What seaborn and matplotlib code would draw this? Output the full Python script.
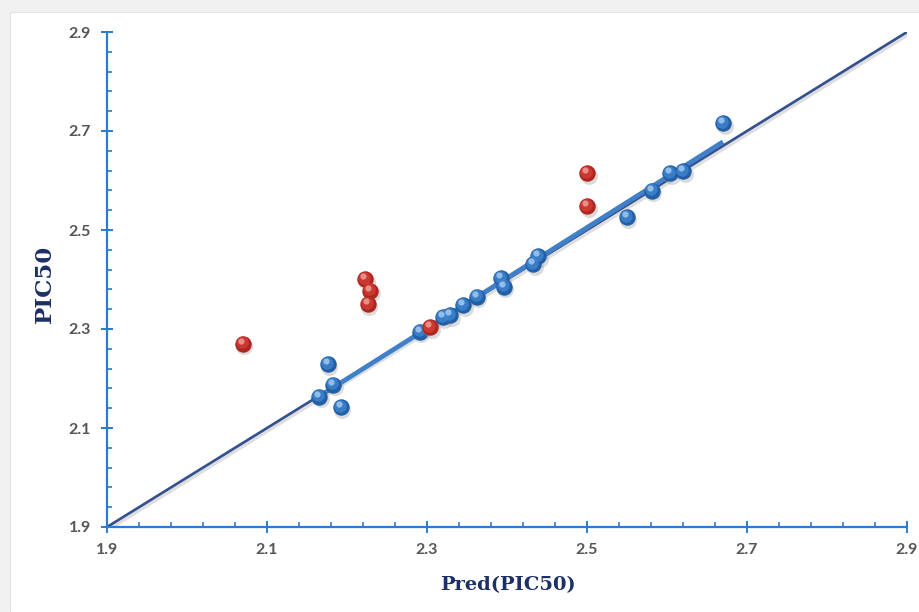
import numpy as np
import pandas as pd
import matplotlib
matplotlib.use("Agg")
import matplotlib.pyplot as plt
import matplotlib.transforms as mtransforms
from matplotlib.ticker import FixedLocator, FormatStrFormatter
from matplotlib.patches import Rectangle
import seaborn as sns

# Training set (blue) and test set (red): predicted vs. observed pIC50
train_pred = [2.165, 2.1925, 2.1825, 2.176, 2.291, 2.320, 2.329, 2.345, 2.3625,
              2.3925, 2.396, 2.4325, 2.439, 2.550, 2.581, 2.604, 2.620, 2.670]
train_obs = [2.163, 2.142, 2.187, 2.229, 2.294, 2.324, 2.328, 2.348, 2.365,
             2.403, 2.385, 2.431, 2.447, 2.526, 2.579, 2.615, 2.619, 2.716]
test_pred = [2.070, 2.2225, 2.229, 2.226, 2.304, 2.500, 2.500]
test_obs = [2.270, 2.401, 2.377, 2.350, 2.304, 2.615, 2.548]

axis_limits = [1.9, 2.9]
major_ticks = [1.9, 2.1, 2.3, 2.5, 2.7, 2.9]
x_label = "Pred(PIC50)"
y_label = "PIC50"

train = pd.DataFrame({"pred": train_pred, "obs": train_obs})
test = pd.DataFrame({"pred": test_pred, "obs": test_obs})

sns.set_theme(style="white")
plt.rcParams["font.family"] = ["Lato", "DejaVu Sans"]

fig = plt.figure(figsize=(9.2, 6.12), dpi=100, facecolor="#f1f1f1")
# white chart panel inside a light grey frame
panel = Rectangle((10 / 920, 0), 1, (612 - 12) / 612,
                  transform=fig.transFigure, facecolor="white",
                  edgecolor="#e4e4e4", lw=0.8, zorder=-10)
fig.patches.append(panel)
ax = fig.add_axes([107 / 920, 85 / 612, 800 / 920, 495 / 612], zorder=1)
ax.set_facecolor("none")

spine_blue = "#2a7ccc"

# identity line y = x
ax.axline((axis_limits[0], axis_limits[0]), slope=1, color="#c8c8c8", lw=3.0,
          alpha=0.6, zorder=1,
          transform=mtransforms.offset_copy(ax.transData, fig, x=1.5, y=-2, units="dots"))
ax.axline((axis_limits[0], axis_limits[0]), slope=1, color="#34508f", lw=1.9, zorder=2)

# linear trend of the training set
sns.regplot(data=train, x="pred", y="obs", ax=ax, scatter=False, ci=None,
            truncate=True, line_kws=dict(color="#3f80c8", lw=3.4, zorder=3,
                                         solid_capstyle="butt"))


def balls(df, base, mid, light, z):
    shadow = mtransforms.offset_copy(ax.transData, fig, x=1.5, y=-2.5, units="dots")
    sns.scatterplot(data=df, x="pred", y="obs", ax=ax, s=150, color="#9a9a9a",
                    alpha=0.35, linewidth=0, transform=shadow, zorder=z, legend=False)
    sns.scatterplot(data=df, x="pred", y="obs", ax=ax, s=140, color=base,
                    linewidth=0, zorder=z + 0.1, legend=False)
    hi1 = mtransforms.offset_copy(ax.transData, fig, x=-1.0, y=1.5, units="dots")
    sns.scatterplot(data=df, x="pred", y="obs", ax=ax, s=80, color=mid,
                    linewidth=0, alpha=0.8, transform=hi1, zorder=z + 0.2, legend=False)
    hi2 = mtransforms.offset_copy(ax.transData, fig, x=-2.0, y=3.0, units="dots")
    sns.scatterplot(data=df, x="pred", y="obs", ax=ax, s=20, color=light,
                    linewidth=0, alpha=0.8, transform=hi2, zorder=z + 0.3, legend=False)


balls(train, "#235fa6", "#3f85d0", "#a9cdf2", 4)
balls(test, "#ad2722", "#d23d35", "#f0a49c", 5)

ax.set_xlim(axis_limits)
ax.set_ylim(axis_limits)

for side in ("top", "right"):
    ax.spines[side].set_visible(False)
for side in ("left", "bottom"):
    ax.spines[side].set_color(spine_blue)
    ax.spines[side].set_linewidth(1.6)

# four minor ticks between each pair of major ticks
minor_ticks = np.linspace(axis_limits[0], axis_limits[1], 26)
for axis in (ax.xaxis, ax.yaxis):
    axis.set_major_locator(FixedLocator(major_ticks))
    axis.set_minor_locator(FixedLocator(minor_ticks))
    axis.set_major_formatter(FormatStrFormatter("%.1f"))

ax.tick_params(which="major", direction="inout", length=8, width=1.4,
               color=spine_blue, labelsize=11.5, labelcolor="#555555", pad=7.5,
               bottom=True, left=True)
ax.tick_params(which="minor", direction="in", length=3.8, width=1.2,
               color=spine_blue, bottom=True, left=True)
for lab in ax.get_xticklabels() + ax.get_yticklabels():
    lab.set_fontweight("bold")

ax.set_xlabel(x_label, fontsize=14, fontweight="bold", color="#1c2f66",
              family="DejaVu Serif")
ax.set_ylabel(y_label, fontsize=16.5, fontweight="bold", color="#1c2f66",
              family="DejaVu Serif")
ax.xaxis.set_label_coords(0.5006, -0.099)
ax.yaxis.set_label_coords(-0.0775, 0.492)
ax.yaxis.label.set_va("center")

fig.savefig("out.png", dpi=100, facecolor=fig.get_facecolor())
